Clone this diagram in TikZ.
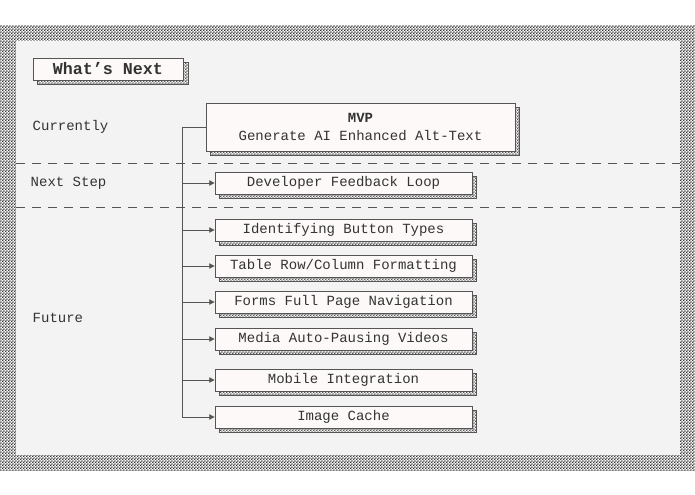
\documentclass[tikz,border=0pt]{standalone}
\usepackage{fontspec}
\setmainfont{Liberation Mono}
\usetikzlibrary{patterns,arrows.meta}
\pgfdeclarepatternformonly{chk}{\pgfqpoint{0pt}{0pt}}{\pgfqpoint{2.4pt}{2.4pt}}{\pgfqpoint{2.4pt}{2.4pt}}{%
 \pgfpathrectangle{\pgfqpoint{0pt}{0pt}}{\pgfqpoint{1.2pt}{1.2pt}}%
 \pgfpathrectangle{\pgfqpoint{1.2pt}{1.2pt}}{\pgfqpoint{1.2pt}{1.2pt}}%
 \pgfusepath{fill}}
\definecolor{bg}{HTML}{F3F3F3}
\definecolor{bx}{HTML}{FDF9F8}
\definecolor{ln}{HTML}{555555}
\tikzset{
 box/.style={draw=ln,fill=bx,line width=0.6pt,minimum height=16.5pt,inner sep=0pt,font=\fontsize{10.5}{12.5}\selectfont,text=black!80},
 shad/.style={pattern=chk,pattern color=ln,draw=ln,line width=0.5pt},
 lab/.style={anchor=west,font=\fontsize{10.5}{12.5}\selectfont,text=black!80},
 conn/.style={draw=ln,line width=0.7pt},
 arr/.style={conn,-{Triangle[length=4pt,width=4pt]}}
}
\begin{document}
\begin{tikzpicture}[x=0.75pt,y=-0.75pt]
\useasboundingbox (0,0) rectangle (695,494);
\fill[white] (0,0) rectangle (695,494);
\fill[pattern=chk,pattern color=black!80] (0,25) rectangle (695,470);
\fill[bg] (16,41) rectangle (680,455);
\draw[conn,dash pattern=on 7pt off 5pt] (16,163) -- (680,163);
\draw[conn,dash pattern=on 7pt off 5pt] (16,207) -- (680,207);
% title
\fill[shad] (37,62) rectangle (188,84);
\node[box,minimum width=112.5pt,minimum height=16.5pt,font=\bfseries\fontsize{12.5}{14}\selectfont] (title) at (108,69) {What’s Next};
\node[lab] (l1) at (28,127) {Currently};
\node[lab] (l2) at (26,183) {Next Step};
\node[lab] (l3) at (28,318) {Future};
% MVP
\fill[shad] (210,107) rectangle (519,155);
\node[box,minimum width=231.75pt,minimum height=36pt,align=center] (mvp) at (360.5,127) {\textbf{MVP}\\[1pt]Generate AI Enhanced Alt-Text};
\foreach \n/\y/\t in {dev/183/{Developer Feedback Loop}, btn/230/{Identifying Button Types}, tab/266/{Table Row/Column Formatting}, frm/302/{Forms Full Page Navigation}, med/339/{Media Auto-Pausing Videos}, mob/380/{Mobile Integration}, img/417/{Image Cache}}{
 \fill[shad] (219,\y-7) rectangle (476,\y+15);
 \node[box,minimum width=192.75pt] (\n) at (343.5,\y) {\t};
}
\coordinate (top) at (182,127);
\coordinate (bot) at (182,417);
\draw[conn] (mvp.west) -- (top) -- (bot);
\foreach \n in {dev,btn,tab,frm,med,mob,img}{
 \draw[arr] (top |- \n.west) -- (\n.west);
}
\end{tikzpicture}
\end{document}
